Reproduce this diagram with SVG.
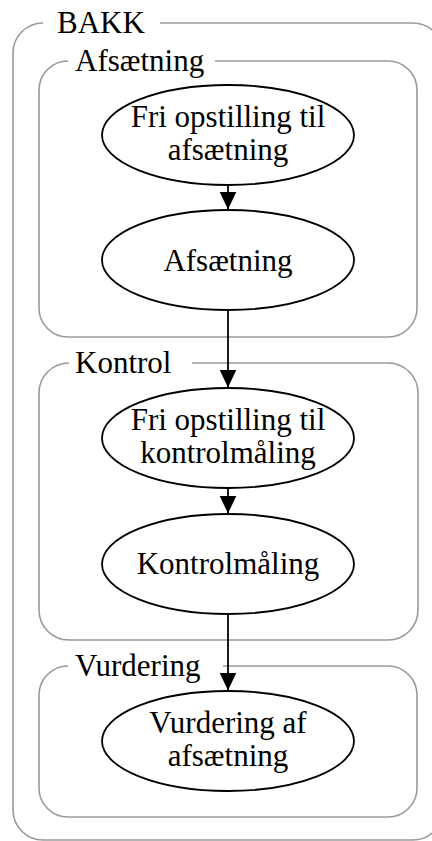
<svg xmlns="http://www.w3.org/2000/svg" width="432" height="841" viewBox="0 0 432 841">
  <defs>
    <style>
      .cluster { fill: none; stroke: #999999; stroke-width: 1.6; }
      .clabel { font-family: "Liberation Serif", "Times New Roman", serif; font-size: 31px; fill: #000; }
      .node ellipse { fill: #ffffff; stroke: #000; stroke-width: 1.8; }
      .node text { font-family: "Liberation Serif", "Times New Roman", serif; font-size: 31px; fill: #000; text-anchor: middle; }
      .edge { fill: none; stroke: #000; stroke-width: 1.8; }
    </style>
    <marker id="arrow" markerUnits="userSpaceOnUse" markerWidth="18" markerHeight="18" refX="18" refY="9" orient="auto">
      <path d="M0,0.5 L18,9 L0,17.5 Z" fill="#000"/>
    </marker>
  </defs>

  <!-- outer cluster: BAKK -->
  <g id="cluster-bakk">
    <path class="cluster" d="M160,23 H413 A30,30 0 0 1 443,53 V810 A30,30 0 0 1 413,840 H43 A30,30 0 0 1 13,810 V53 A30,30 0 0 1 43,23"/>
    <text class="clabel" x="57" y="33">BAKK</text>
  </g>

  <!-- cluster: Afsætning -->
  <g id="cluster-afsaetning">
    <path class="cluster" d="M215,61 H388 A29,29 0 0 1 417,90 V308 A29,29 0 0 1 388,337 H68 A29,29 0 0 1 39,308 V90 A29,29 0 0 1 68,61"/>
    <text class="clabel" x="75" y="71">Afsætning</text>
  </g>

  <!-- cluster: Kontrol -->
  <g id="cluster-kontrol">
    <path class="cluster" d="M192,363 H388 A30,30 0 0 1 418,393 V610 A30,30 0 0 1 388,640 H69 A30,30 0 0 1 39,610 V393 A30,30 0 0 1 69,363"/>
    <text class="clabel" x="75" y="373">Kontrol</text>
  </g>

  <!-- cluster: Vurdering -->
  <g id="cluster-vurdering">
    <path class="cluster" d="M223,666 H388 A29,29 0 0 1 417,695 V788 A29,29 0 0 1 388,817 H68 A29,29 0 0 1 39,788 V695 A29,29 0 0 1 68,666"/>
    <text class="clabel" x="75" y="676">Vurdering</text>
  </g>

  <!-- connectors -->
  <g id="edges">
    <line class="edge" x1="228" y1="185.5" x2="228" y2="209.5" marker-end="url(#arrow)"/>
    <line class="edge" x1="228" y1="310.5" x2="228" y2="387.5" marker-end="url(#arrow)"/>
    <line class="edge" x1="228" y1="488.5" x2="228" y2="513.5" marker-end="url(#arrow)"/>
    <line class="edge" x1="228" y1="614.5" x2="228" y2="690.5" marker-end="url(#arrow)"/>
  </g>

  <!-- nodes -->
  <g id="node-fri-afsaetning" class="node">
    <ellipse cx="228" cy="135" rx="126" ry="50"/>
    <text x="228" y="127">Fri opstilling til</text>
    <text x="228" y="160">afsætning</text>
  </g>
  <g id="node-afsaetning" class="node">
    <ellipse cx="228" cy="260" rx="126" ry="50"/>
    <text x="228" y="271">Afsætning</text>
  </g>
  <g id="node-fri-kontrol" class="node">
    <ellipse cx="228" cy="438" rx="126" ry="50"/>
    <text x="228" y="430">Fri opstilling til</text>
    <text x="228" y="463">kontrolmåling</text>
  </g>
  <g id="node-kontrolmaaling" class="node">
    <ellipse cx="228" cy="564" rx="126" ry="50"/>
    <text x="228" y="574">Kontrolmåling</text>
  </g>
  <g id="node-vurdering" class="node">
    <ellipse cx="228" cy="741" rx="126" ry="50"/>
    <text x="228" y="733">Vurdering af</text>
    <text x="228" y="766">afsætning</text>
  </g>
</svg>
